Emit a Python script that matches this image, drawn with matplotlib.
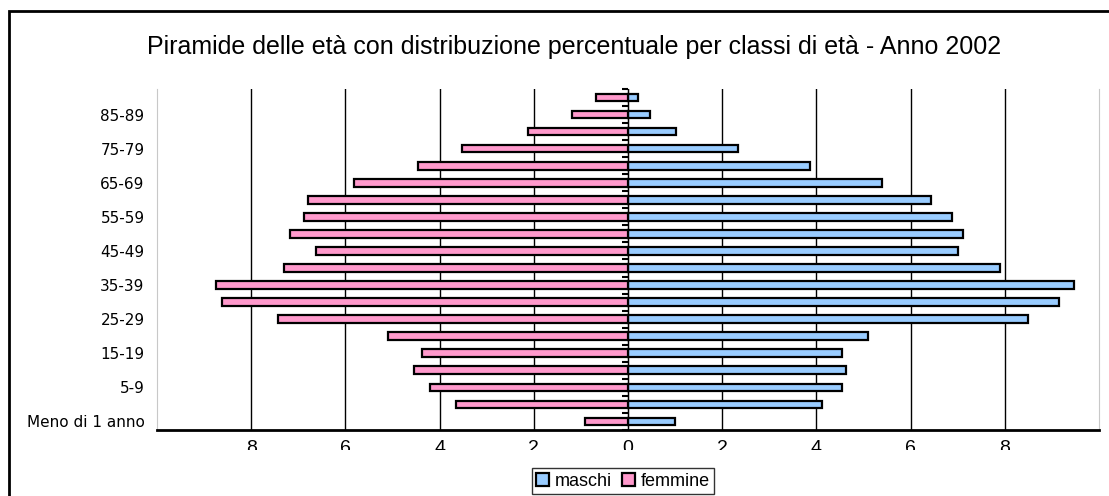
import numpy as np
import matplotlib
matplotlib.use("Agg")
import matplotlib.pyplot as plt
from matplotlib.patches import Rectangle
from matplotlib.transforms import Bbox, TransformedBbox

# age classes from youngest to oldest
classes = ["Meno di 1 anno", "1-4", "5-9", "10-14", "15-19", "20-24", "25-29",
           "30-34", "35-39", "40-44", "45-49", "50-54", "55-59", "60-64",
           "65-69", "70-74", "75-79", "80-84", "85-89", "90 e oltre"]

# percentage of population in each class
maschi = [1.0, 4.12, 4.54, 4.63, 4.54, 5.1, 8.49, 9.15, 9.47, 7.9,
          7.0, 7.11, 6.88, 6.43, 5.39, 3.86, 2.34, 1.02, 0.47, 0.21]
femmine = [0.91, 3.65, 4.2, 4.54, 4.37, 5.1, 7.43, 8.62, 8.75, 7.3,
           6.62, 7.18, 6.88, 6.79, 5.82, 4.46, 3.52, 2.12, 1.19, 0.68]

x_ticks = [-8, -6, -4, -2, 0, 2, 4, 6, 8]
x_tick_labels = ["8", "6", "4", "2", "0", "2", "4", "6", "8"]

BLUE = "#99ccff"
PINK = "#ff99cc"


def plot():
    fig = plt.figure(figsize=(11.09, 4.96), dpi=100)
    ax = fig.add_axes([0.1416, 0.1331, 0.8494, 0.6875])

    y = np.arange(len(classes))
    bm = ax.barh(y, maschi, height=0.45, color=BLUE, edgecolor="black",
                 linewidth=1.6, zorder=3, label="maschi")
    bf = ax.barh(y, [-v for v in femmine], height=0.45, color=PINK,
                 edgecolor="black", linewidth=1.6, zorder=3, label="femmine")

    ax.set_xlim(-10, 10)
    ax.set_ylim(-0.5, len(classes) - 0.5)

    # vertical gridlines
    ax.set_xticks(x_ticks)
    ax.set_xticklabels(x_tick_labels, fontsize=14, family="Liberation Sans")
    ax.tick_params(axis="x", length=0, pad=7)
    ax.xaxis.grid(True, color="black", linewidth=1, zorder=1)
    ax.set_axisbelow(True)

    # category labels, every other one
    ax.set_yticks(y[::2])
    ax.set_yticklabels(classes[::2], fontsize=11, family="DejaVu Sans")
    ax.tick_params(axis="y", length=0, pad=9)

    for s in ["left", "right"]:
        ax.spines[s].set_color("#c8c8c8")
        ax.spines[s].set_linewidth(0.8)
    ax.spines["top"].set_visible(False)
    ax.spines["bottom"].set_linewidth(2)

    # central axis with small tick marks
    sec = ax.secondary_yaxis(0.5)
    sec.set_yticks(np.arange(-0.5, len(classes), 0.5))
    sec.set_yticklabels([])
    sec.tick_params(length=4, width=1.5, direction="in")
    sec.spines["left"].set_linewidth(2)
    sec.spines["left"].set_zorder(5)

    # x tick labels look cut at the bottom in the original
    clip = TransformedBbox(Bbox([[0, 46 / 496], [1, 1]]), fig.transFigure)
    for lab in ax.get_xticklabels():
        lab.set_clip_box(clip)
        lab.set_clip_on(True)

    fig.text(0.5176, 0.905, "Piramide delle età con distribuzione percentuale per classi di età - Anno 2002",
             ha="center", va="center", fontsize=18, family="Liberation Sans")

    leg = fig.legend(handles=[bm, bf], loc="center", bbox_to_anchor=(0.5618, 0.0302),
                     ncol=2, frameon=True, fancybox=False,
                     handlelength=0.7, handleheight=0.7, handletextpad=0.3,
                     columnspacing=0.6, borderpad=0.25,
                     prop={"family": "Liberation Sans", "size": 13})
    leg.get_frame().set_edgecolor("black")
    leg.get_frame().set_linewidth(1)

    # outer frame of the chart area
    fig.patches.append(Rectangle((9 / 1109, -0.1), 2, 0.1 + 485 / 496,
                                 transform=fig.transFigure, fill=False,
                                 edgecolor="black", linewidth=2))

    fig.savefig("out.png", dpi=100)


if __name__ == "__main__":
    plot()
